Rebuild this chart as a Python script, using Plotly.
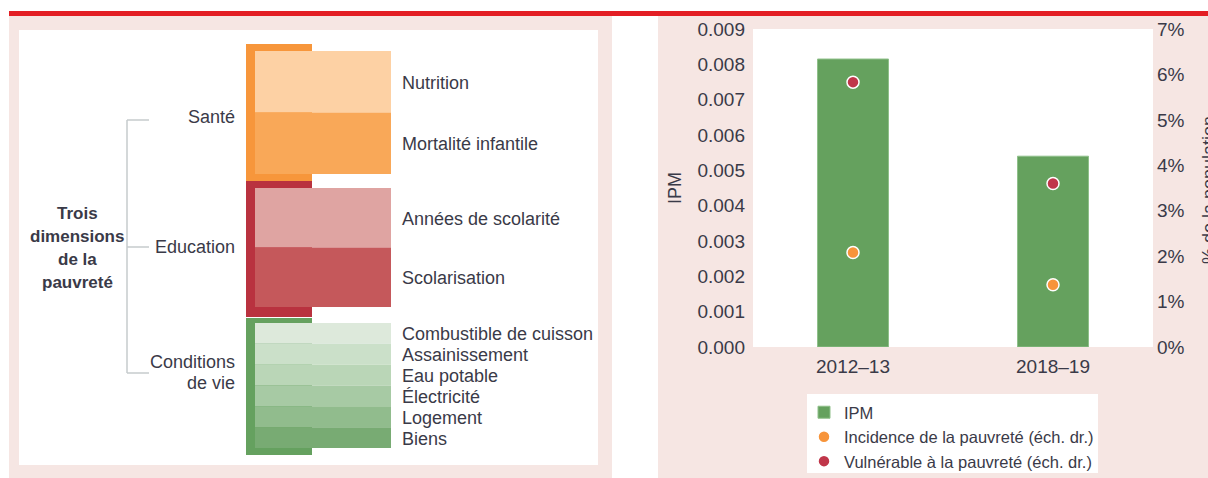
import plotly.graph_objects as go

W, H = 1208, 478

# ---------------- data ----------------
categories = ["2012–13", "2018–19"]
ipm = [0.00815, 0.0054]
incidence = [2.08, 1.37]      # % of population (right scale)
vulnerable = [5.83, 3.60]     # % of population (right scale)
ipm_ticks = [0.000, 0.001, 0.002, 0.003, 0.004, 0.005, 0.006, 0.007, 0.008, 0.009]
pct_ticks = [0, 1, 2, 3, 4, 5, 6, 7]
pct_labels = ["0%", "1%", "2%", "3%", "4%", "5%", "6%", "7%"]

diagram_title = ["Trois", "dimensions", "de la", "pauvreté"]
dimensions = ["Santé", "Education", "Conditions", "de vie"]
sante = ["Nutrition", "Mortalité infantile"]
education = ["Années de scolarité", "Scolarisation"]
conditions = ["Combustible de cuisson", "Assainissement", "Eau potable",
              "Électricité", "Logement", "Biens"]

# ---------------- styles ----------------
FONT = "Liberation Sans, Arial, sans-serif"
TXT = "#3a3a48"
PINK = "#f6e6e3"
RED_LINE = "#e31e24"
GREEN_BAR = "#65a15e"
ORANGE = "#f7943a"
CRIMSON = "#c0364a"


def px(x):
    return x / W


def py(y):
    return 1 - y / H


shapes = []
annotations = []


def rect(x0, y0, x1, y1, color):
    shapes.append(dict(type="rect", xref="paper", yref="paper",
                       x0=px(x0), x1=px(x1), y0=py(y1), y1=py(y0),
                       fillcolor=color, line=dict(width=0), layer="below"))


def line(x0, y0, x1, y1, color="#c6cbcd", width=1.5):
    shapes.append(dict(type="line", xref="paper", yref="paper",
                       x0=px(x0), x1=px(x1), y0=py(y0), y1=py(y1),
                       line=dict(color=color, width=width), layer="below"))


def text(t, x, y, anchor="left", size=18, bold=False, angle=0):
    if bold:
        t = "<b>" + t + "</b>"
    annotations.append(dict(text=t, xref="paper", yref="paper", x=px(x), y=py(y),
                            xanchor=anchor, yanchor="middle", showarrow=False,
                            textangle=angle,
                            font=dict(family=FONT, size=size, color=TXT)))


# top red rule and panel backgrounds
rect(9, 11, W, 16, RED_LINE)
rect(9, 16, 612, H, PINK)
rect(19, 30, 598, 465, "white")
rect(658, 16, W, H, PINK)
rect(753, 29, 1153, 347, "white")        # plot area
rect(807, 394, 1098, 473, "white")       # legend box

# ---------------- left diagram ----------------
FX0, FX1 = 246, 312      # frame
IX0, IX1 = 255, 391      # inner blocks
LX = 400                 # indicator label x

groups = [
    dict(frame="#f7963b", fy=(44, 181), iy=(51, 174),
         colors=["#fdd1a4", "#f9a858"], labels=sante),
    dict(frame="#b9323f", fy=(181, 317), iy=(188, 307),
         colors=["#dfa4a2", "#c5585b"], labels=education),
    dict(frame="#65a15f", fy=(318, 455), iy=(323, 448),
         colors=["#dde9db", "#cbe0c9", "#bad6b7", "#a7caa4", "#91bc8d", "#78ab73"],
         labels=conditions),
]

for g in groups:
    rect(FX0, g["fy"][0], FX1, g["fy"][1], g["frame"])
    n = len(g["labels"])
    y0, y1 = g["iy"]
    h = (y1 - y0) / n
    for i, (lab, col) in enumerate(zip(g["labels"], g["colors"])):
        a, b = y0 + i * h, y0 + (i + 1) * h
        rect(IX0, a, IX1, b, col)
        text(lab, LX, (a + b) / 2 + 1, "left", size=18)

# bracket
line(127, 120, 127, 373)
line(127, 120, 149, 120)
line(127, 247, 149, 247)
line(127, 373, 149, 373)

# dimension labels
text(dimensions[0], 237, 117, "right")
text(dimensions[1], 237, 247, "right")
text(dimensions[2], 237, 362, "right")
text(dimensions[3], 237, 383, "right")

# diagram title
for i, t in enumerate(diagram_title):
    text(t, 77, 213 + i * 23, "center", size=17, bold=True)

# axis titles (right one is cut by the page edge as in the source)
text("IPM", 675, 188, "center", size=18, angle=-90)
text("% de la population", 1209, 190, "center", size=18, angle=-90)

# ---------------- chart ----------------
fig = go.Figure()
fig.add_trace(go.Bar(
    x=categories, y=ipm, name="IPM", width=0.355,
    marker=dict(color=GREEN_BAR, line=dict(color="#8fc08a", width=1)),
    yaxis="y",
))
fig.add_trace(go.Scatter(
    x=categories, y=incidence, name="Incidence de la pauvreté (éch. dr.)",
    mode="markers", yaxis="y2",
    marker=dict(color=ORANGE, size=12, line=dict(color="white", width=1.5)),
))
fig.add_trace(go.Scatter(
    x=categories, y=vulnerable, name="Vulnérable à la pauvreté (éch. dr.)",
    mode="markers", yaxis="y2",
    marker=dict(color=CRIMSON, size=12, line=dict(color="white", width=1.5)),
))

tickfont = dict(family=FONT, size=19, color=TXT)

fig.update_layout(
    width=W, height=H,
    margin=dict(l=0, r=0, t=0, b=0, autoexpand=False),
    paper_bgcolor="white",
    plot_bgcolor="white",
    showlegend=True,
    legend=dict(x=px(804), y=py(395), xanchor="left", yanchor="top",
                bgcolor="rgba(0,0,0,0)", font=dict(family=FONT, size=16.5, color=TXT),
                itemwidth=30, tracegroupgap=0),
    xaxis=dict(domain=[px(753), px(1153)], showgrid=False, zeroline=False,
               showline=False, ticks="", tickfont=tickfont, ticklabelstandoff=6,
               automargin=False),
    yaxis=dict(domain=[py(347), py(29)], range=[0, 0.009], tickvals=ipm_ticks,
               tickformat=".3f", showgrid=False, zeroline=False, showline=False,
               ticks="", tickfont=tickfont, ticklabelstandoff=7, automargin=False),
    yaxis2=dict(overlaying="y", side="right", range=[0, 7], tickvals=pct_ticks,
                ticktext=pct_labels, showgrid=False, zeroline=False, showline=False,
                ticks="", tickfont=tickfont, ticklabelstandoff=3, automargin=False),
    shapes=shapes,
    annotations=annotations,
)

fig.write_html(
    "out.html",
    config={"displayModeBar": False},
    post_script="document.body.style.margin='0';document.body.style.overflow='hidden';",
)
